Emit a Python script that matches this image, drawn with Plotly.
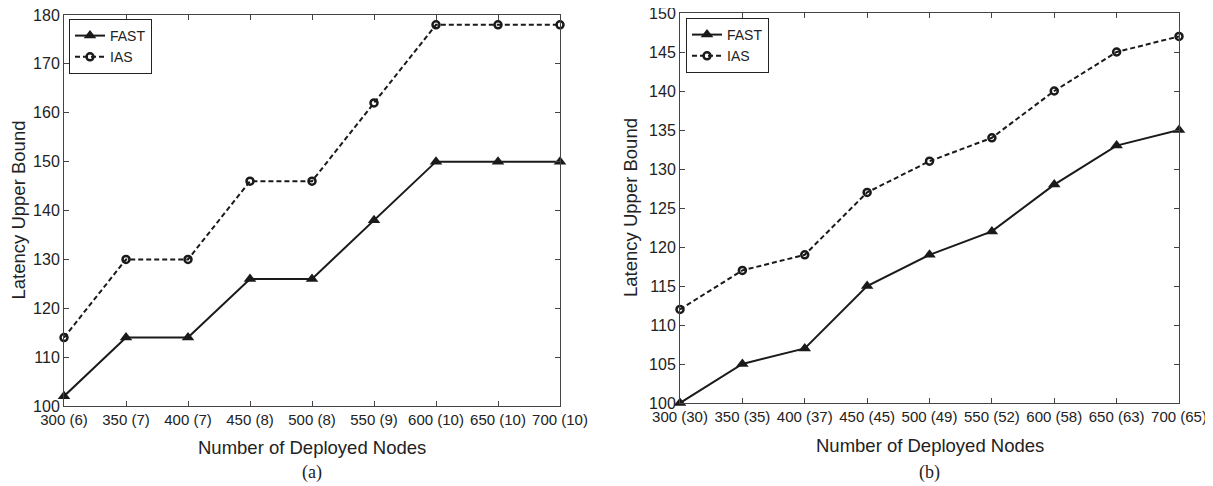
import plotly.graph_objects as go

categories_a = ["300 (6)", "350 (7)", "400 (7)", "450 (8)", "500 (8)", "550 (9)", "600 (10)", "650 (10)", "700 (10)"]
fast_a = [102, 114, 114, 126, 126, 138, 150, 150, 150]
ias_a = [114, 130, 130, 146, 146, 162, 178, 178, 178]

categories_b = ["300 (30)", "350 (35)", "400 (37)", "450 (45)", "500 (49)", "550 (52)", "600 (58)", "650 (63)", "700 (65)"]
fast_b = [100, 105, 107, 115, 119, 122, 128, 133, 135]
ias_b = [112, 117, 119, 127, 131, 134, 140, 145, 147]

yticks_a = [100, 110, 120, 130, 140, 150, 160, 170, 180]
yticks_b = [100, 105, 110, 115, 120, 125, 130, 135, 140, 145, 150]

FONT = "Liberation Sans, Arial, sans-serif"
SERIF = "Liberation Serif, Times New Roman, serif"
INK = "#1a1a1a"
W, H = 1213, 486
OFF = 8  # default page body margin offsets the figure


def px(x):
    return (x - OFF) / W


def py(y):
    return 1 - (y - OFF) / H


fig = go.Figure()


def add_pair(cats, fast, ias, xa, ya, leg):
    xi = list(range(len(cats)))
    fig.add_trace(go.Scatter(x=xi, y=fast, name="FAST", mode="lines+markers",
                             line=dict(color=INK, width=2),
                             marker=dict(symbol="triangle-up", size=11, color=INK),
                             xaxis=xa, yaxis=ya, legend=leg, cliponaxis=False))
    fig.add_trace(go.Scatter(x=xi, y=ias, name="IAS", mode="lines+markers",
                             line=dict(color=INK, width=2, dash="5px,3px"),
                             marker=dict(symbol="circle-open", size=7, color=INK,
                                         line=dict(width=2.5, color=INK)),
                             xaxis=xa, yaxis=ya, legend=leg, cliponaxis=False))


add_pair(categories_a, fast_a, ias_a, "x", "y", "legend")
add_pair(categories_b, fast_b, ias_b, "x2", "y2", "legend2")

axis_common = dict(showgrid=False, zeroline=False, showline=True, linecolor="#444444",
                   linewidth=1, mirror="ticks", ticks="inside", ticklen=5,
                   tickcolor="#444444", automargin=False, ticklabeloverflow="allow")
xfont = dict(family=FONT, size=15, color="#222")
yfont = dict(family=FONT, size=16, color="#222")

xa_dom = [px(64), px(560)]
xb_dom = [px(680), px(1179)]
ya_dom = [py(406), py(15)]
yb_dom = [py(403), py(13)]

title_font = dict(family=FONT, size=18.5, color="#222")

fig.update_layout(
    width=W, height=H, margin=dict(l=0, r=0, t=0, b=0),
    paper_bgcolor="white", plot_bgcolor="white",
    xaxis=dict(domain=xa_dom, anchor="y", range=[0, 8],
               tickmode="array", tickvals=list(range(9)), ticktext=categories_a,
               tickfont=xfont, **axis_common),
    yaxis=dict(domain=ya_dom, anchor="x", range=[100, 180],
               tickmode="array", tickvals=yticks_a, tickfont=yfont, **axis_common),
    xaxis2=dict(domain=xb_dom, anchor="y2", range=[0, 8],
                tickmode="array", tickvals=list(range(9)), ticktext=categories_b,
                tickfont=xfont, **axis_common),
    yaxis2=dict(domain=yb_dom, anchor="x2", range=[100, 150],
                tickmode="array", tickvals=yticks_b, tickfont=yfont, **axis_common),
    legend=dict(x=px(69), y=py(19), xanchor="left", yanchor="top", bgcolor="white",
                bordercolor="#222", borderwidth=1, font=dict(family=FONT, size=14, color="#222"),
                tracegroupgap=0, itemwidth=30),
    legend2=dict(x=px(686), y=py(18), xanchor="left", yanchor="top", bgcolor="white",
                 bordercolor="#222", borderwidth=1, font=dict(family=FONT, size=14, color="#222"),
                 tracegroupgap=0, itemwidth=30),
    annotations=[
        dict(text="Number of Deployed Nodes", x=sum(xa_dom) / 2, y=py(447),
             xanchor="center", yanchor="middle",
             xref="paper", yref="paper", showarrow=False, font=title_font),
        dict(text="Number of Deployed Nodes", x=sum(xb_dom) / 2, y=py(445),
             xanchor="center", yanchor="middle",
             xref="paper", yref="paper", showarrow=False, font=title_font),
        dict(text="Latency Upper Bound", x=px(18), y=sum(ya_dom) / 2, textangle=-90,
             xanchor="center", yanchor="middle",
             xref="paper", yref="paper", showarrow=False, font=title_font),
        dict(text="Latency Upper Bound", x=px(630), y=sum(yb_dom) / 2, textangle=-90,
             xanchor="center", yanchor="middle",
             xref="paper", yref="paper", showarrow=False, font=title_font),
        dict(text="(a)", x=sum(xa_dom) / 2, y=py(472), xanchor="center", yanchor="middle",
             xref="paper", yref="paper",
             showarrow=False, font=dict(family=SERIF, size=18, color="#222")),
        dict(text="(b)", x=sum(xb_dom) / 2, y=py(472), xanchor="center", yanchor="middle",
             xref="paper", yref="paper",
             showarrow=False, font=dict(family=SERIF, size=18, color="#222")),
    ],
)

fig.write_html("out.html")
